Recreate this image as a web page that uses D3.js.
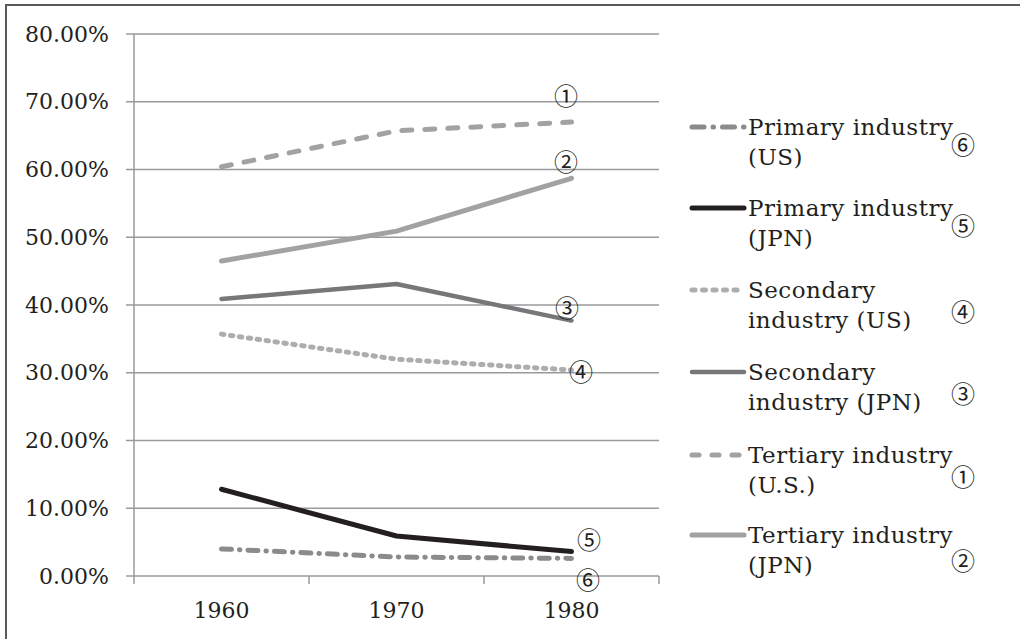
<!DOCTYPE html>
<html>
<head>
<meta charset="utf-8">
<script src="https://cdn.jsdelivr.net/npm/d3@7"></script>
<style>
  body { margin: 0; background: #fff; }
  svg { display: block; }
  text { font-family: "DejaVu Serif", "Liberation Serif", serif; fill: #231f20; }
  .mark { font-family: "Noto Sans CJK JP", "DejaVu Sans", sans-serif; }
</style>
</head>
<body>
<svg id="chart" width="1020" height="639"></svg>
<script>
// data
const years = ['1960', '1970', '1980']
const primaryUS = [0.040, 0.028, 0.026]
const primaryJPN = [0.128, 0.059, 0.036]
const secondaryUS = [0.357, 0.320, 0.304]
const secondaryJPN = [0.409, 0.431, 0.377]
const tertiaryUS = [0.604, 0.657, 0.670]
const tertiaryJPN = [0.465, 0.509, 0.587]
const yTicks = [0, 0.1, 0.2, 0.3, 0.4, 0.5, 0.6, 0.7, 0.8]

const series = [
  { name: ['Primary industry', '(US)'], vals: primaryUS, mark: '⑥', color: '#8b8b8d', width: 5, dash: '10,8,0.5,8', legDash: '12,9,0.5,9' },
  { name: ['Primary industry', '(JPN)'], vals: primaryJPN, mark: '⑤', color: '#231f20', width: 5, dash: null, legDash: null },
  { name: ['Secondary', 'industry (US)'], vals: secondaryUS, mark: '④', color: '#adadb0', width: 5, dash: '2.5,6.5', legDash: '3,7.5' },
  { name: ['Secondary', 'industry (JPN)'], vals: secondaryJPN, mark: '③', color: '#77777a', width: 4.5, dash: null, legDash: null },
  { name: ['Tertiary industry', '(U.S.)'], vals: tertiaryUS, mark: '①', color: '#a2a2a5', width: 5, dash: '10,13', legDash: '7,13' },
  { name: ['Tertiary industry', '(JPN)'], vals: tertiaryJPN, mark: '②', color: '#a2a2a5', width: 5, dash: null, legDash: null }
]

const svg = d3.select('#chart')

// frame (only top and left edges are visible)
svg.append('path')
  .attr('d', 'M6,639 L6,5 L1020,5')
  .attr('fill', 'none')
  .attr('stroke', '#5a5a5a')
  .attr('stroke-width', 2)

const x = d3.scaleBand()
  .domain(years)
  .range([134, 659])
const y = d3.scaleLinear()
  .domain([0, 0.8])
  .range([576, 34])

// gridlines
svg.append('g')
  .selectAll('line')
  .data(yTicks)
  .join('line')
  .attr('x1', 126)
  .attr('x2', 659)
  .attr('y1', d => y(d))
  .attr('y2', d => y(d))
  .attr('stroke', '#9a9a9c')
  .attr('stroke-width', 1.5)

// y axis line
svg.append('line')
  .attr('x1', 134).attr('x2', 134)
  .attr('y1', y(0.8)).attr('y2', 584)
  .attr('stroke', '#9a9a9c')
  .attr('stroke-width', 1.5)

// y labels
svg.append('g')
  .selectAll('text')
  .data(yTicks)
  .join('text')
  .attr('x', 109)
  .attr('y', d => y(d))
  .attr('dy', '0.35em')
  .attr('text-anchor', 'end')
  .attr('font-size', 22)
  .text(d => d3.format('.2%')(d))

// x ticks between categories
const edges = years.map(d => x(d)).concat([x(years[years.length - 1]) + x.bandwidth()])
svg.append('g')
  .selectAll('line')
  .data(edges.slice(1))
  .join('line')
  .attr('x1', d => d).attr('x2', d => d)
  .attr('y1', 576).attr('y2', 584)
  .attr('stroke', '#9a9a9c')
  .attr('stroke-width', 1.5)

// x labels
svg.append('g')
  .selectAll('text')
  .data(years)
  .join('text')
  .attr('x', d => x(d) + x.bandwidth() / 2)
  .attr('y', 610)
  .attr('dy', '0.35em')
  .attr('text-anchor', 'middle')
  .attr('font-size', 22)
  .text(d => d)

// lines
const line = d3.line()
  .x((d, i) => x(years[i]) + x.bandwidth() / 2)
  .y(d => y(d))

svg.append('g')
  .selectAll('path')
  .data(series)
  .join('path')
  .attr('d', d => line(d.vals))
  .attr('fill', 'none')
  .attr('stroke', d => d.color)
  .attr('stroke-width', d => d.width)
  .attr('stroke-linecap', 'round')
  .attr('stroke-linejoin', 'round')
  .attr('stroke-dasharray', d => d.dash)

// circled marks next to 1980 points
const markPos = { '①': [566, 97], '②': [566, 163], '③': [567, 309], '④': [581, 373], '⑤': [589, 541], '⑥': [588, 581] }
svg.append('g')
  .selectAll('text')
  .data(series)
  .join('text')
  .attr('class', 'mark')
  .attr('x', d => markPos[d.mark][0])
  .attr('y', d => markPos[d.mark][1])
  .attr('dy', '0.35em')
  .attr('text-anchor', 'middle')
  .attr('font-size', 24)
  .text(d => d.mark)

// legend
const legendY = [127, 208, 290, 372, 455, 535]
const legendMarkDy = [19, 19, 23, 23, 23, 27]
const lg = svg.append('g')
  .selectAll('g')
  .data(series)
  .join('g')
  .attr('transform', (d, i) => `translate(0,${legendY[i]})`)

lg.append('line')
  .attr('x1', 692).attr('x2', 744)
  .attr('y1', 0).attr('y2', 0)
  .attr('stroke', d => d.color)
  .attr('stroke-width', d => d.width)
  .attr('stroke-linecap', 'round')
  .attr('stroke-dasharray', d => d.legDash)

lg.append('text')
  .attr('x', 748)
  .attr('y', 0)
  .attr('font-size', 23)
  .attr('letter-spacing', 0.5)
  .selectAll('tspan')
  .data(d => d.name)
  .join('tspan')
  .attr('x', 748)
  .attr('dy', (d, i) => i == 0 ? '0.35em' : 30)
  .text(d => d)

lg.append('text')
  .attr('class', 'mark')
  .attr('x', 963)
  .attr('y', (d, i) => legendMarkDy[i])
  .attr('dy', '0.35em')
  .attr('text-anchor', 'middle')
  .attr('font-size', 24)
  .text(d => d.mark)
</script>
</body>
</html>
